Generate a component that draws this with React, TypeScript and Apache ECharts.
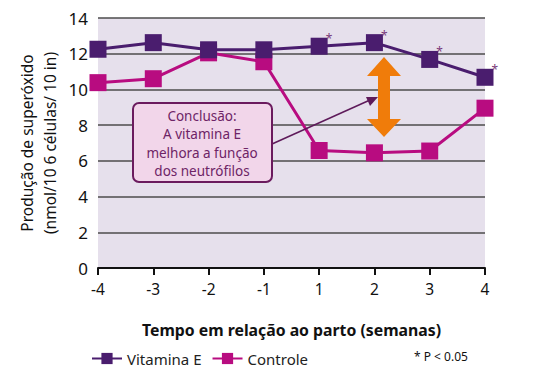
import React, { useEffect, useRef } from "react";
import * as echarts from "echarts";

const categories = ["-4", "-3", "-2", "-1", "1", "2", "3", "4"];
const vitaminaE = [12.25, 12.62, 12.22, 12.22, 12.42, 12.62, 11.68, 10.68];
const controle = [10.38, 10.6, 12.05, 11.55, 6.58, 6.45, 6.55, 8.95];
const significant = [false, false, false, false, true, true, true, true];
const yTicks = { min: 0, max: 14, interval: 2 };
const noteLines = ["Conclusão:", "A vitamina E", "melhora a função", "dos neutrófilos"];

const FONT = "'Noto Sans', 'DejaVu Sans', sans-serif";
const PURPLE = "#4a1d6e";
const MAGENTA = "#b80c80";

export default function App() {
  const ref = useRef<HTMLDivElement>(null);
  useEffect(() => {
    if (!ref.current) return;
    const chart = echarts.init(ref.current, null, { renderer: "svg" });
    chart.setOption({
      animation: false,
      textStyle: { fontFamily: FONT },
      grid: {
        left: 98,
        right: 55,
        top: 18,
        bottom: 109,
        show: true,
        backgroundColor: "#e6e0ec",
        borderWidth: 0,
      },
      legend: {
        left: 86,
        top: 346,
        itemWidth: 30,
        itemHeight: 14,
        itemGap: 10,
        textStyle: { fontSize: 15, color: "#222", fontFamily: FONT },
        data: ["Vitamina E", "Controle"],
      },
      xAxis: {
        type: "category",
        data: categories,
        boundaryGap: false,
        axisLine: { lineStyle: { color: "#111", width: 2 } },
        axisTick: { show: true, length: 7, lineStyle: { color: "#111", width: 2 } },
        axisLabel: { fontSize: 15.5, color: "#111", margin: 13 },
        name: "Tempo em relação ao parto (semanas)",
        nameLocation: "middle",
        nameGap: 54,
        nameTextStyle: { fontSize: 15.8, fontWeight: "bold", color: "#111" },
      },
      yAxis: {
        type: "value",
        min: yTicks.min,
        max: yTicks.max,
        interval: yTicks.interval,
        axisLine: { show: false },
        axisTick: { show: false },
        axisLabel: { fontSize: 17, color: "#111", margin: 10 },
        splitLine: { lineStyle: { color: "#4d4d4d", width: 1.5 } },
      },
      series: [
        {
          name: "Vitamina E",
          type: "line",
          z: 3,
          data: vitaminaE.map((v, i) => ({
            value: v,
            label: significant[i]
              ? {
                  show: true,
                  formatter: "*",
                  position: [15, -5],
                  fontSize: 12,
                  color: "#7a3b7a",
                }
              : { show: false },
          })),
          symbol: "rect",
          symbolSize: 17,
          lineStyle: { color: PURPLE, width: 3 },
          itemStyle: { color: PURPLE },
        },
        {
          name: "Controle",
          type: "line",
          z: 2,
          data: controle,
          symbol: "rect",
          symbolSize: 17,
          lineStyle: { color: MAGENTA, width: 3 },
          itemStyle: { color: MAGENTA },
        },
      ],
      graphic: [
        {
          type: "text",
          x: 38,
          y: 143,
          rotation: Math.PI / 2,
          style: {
            text: "Produção de superóxido\n(nmol/10 6 células/ 10 in)",
            fontSize: 15.5,
            lineHeight: 23,
            fill: "#111",
            fontFamily: FONT,
            align: "center",
            verticalAlign: "middle",
          },
        },
        {
          type: "line",
          z: 20,
          shape: { x1: 272, y1: 144, x2: 370, y2: 100 },
          style: { stroke: "#5e1a5a", lineWidth: 1.5 },
        },
        {
          type: "polygon",
          z: 20,
          shape: { points: [[378, 97], [366, 97], [370, 106]] },
          style: { fill: "#5e1a5a" },
        },
        {
          type: "rect",
          z: 21,
          shape: { x: 133, y: 103, width: 139, height: 79, r: 6 },
          style: { fill: "#f2d6ea", stroke: "#6b1b5e", lineWidth: 2 },
        },
        ...noteLines.map((t, i) => ({
          type: "text",
          z: 22,
          x: 202,
          y: 115.5 + i * 18.5,
          style: {
            text: t,
            fontSize: 13.5,
            fill: "#6e2466",
            fontFamily: FONT,
            align: "center",
            verticalAlign: "middle",
          },
        })),
        {
          type: "polygon",
          z: 20,
          shape: {
            points: [
              [384, 57],
              [401, 76],
              [390, 76],
              [390, 119],
              [401, 119],
              [384, 137],
              [367, 119],
              [378, 119],
              [378, 76],
              [367, 76],
            ],
          },
          style: { fill: "#f07c0a" },
        },
        {
          type: "text",
          x: 414,
          y: 356,
          style: {
            text: "* P < 0.05",
            fontSize: 12,
            fill: "#111",
            fontFamily: FONT,
            verticalAlign: "middle",
          },
        },
      ],
    });
    return () => chart.dispose();
  }, []);
  return <div ref={ref} style={{ width: 540, height: 377, margin: -8 }} />;
}
